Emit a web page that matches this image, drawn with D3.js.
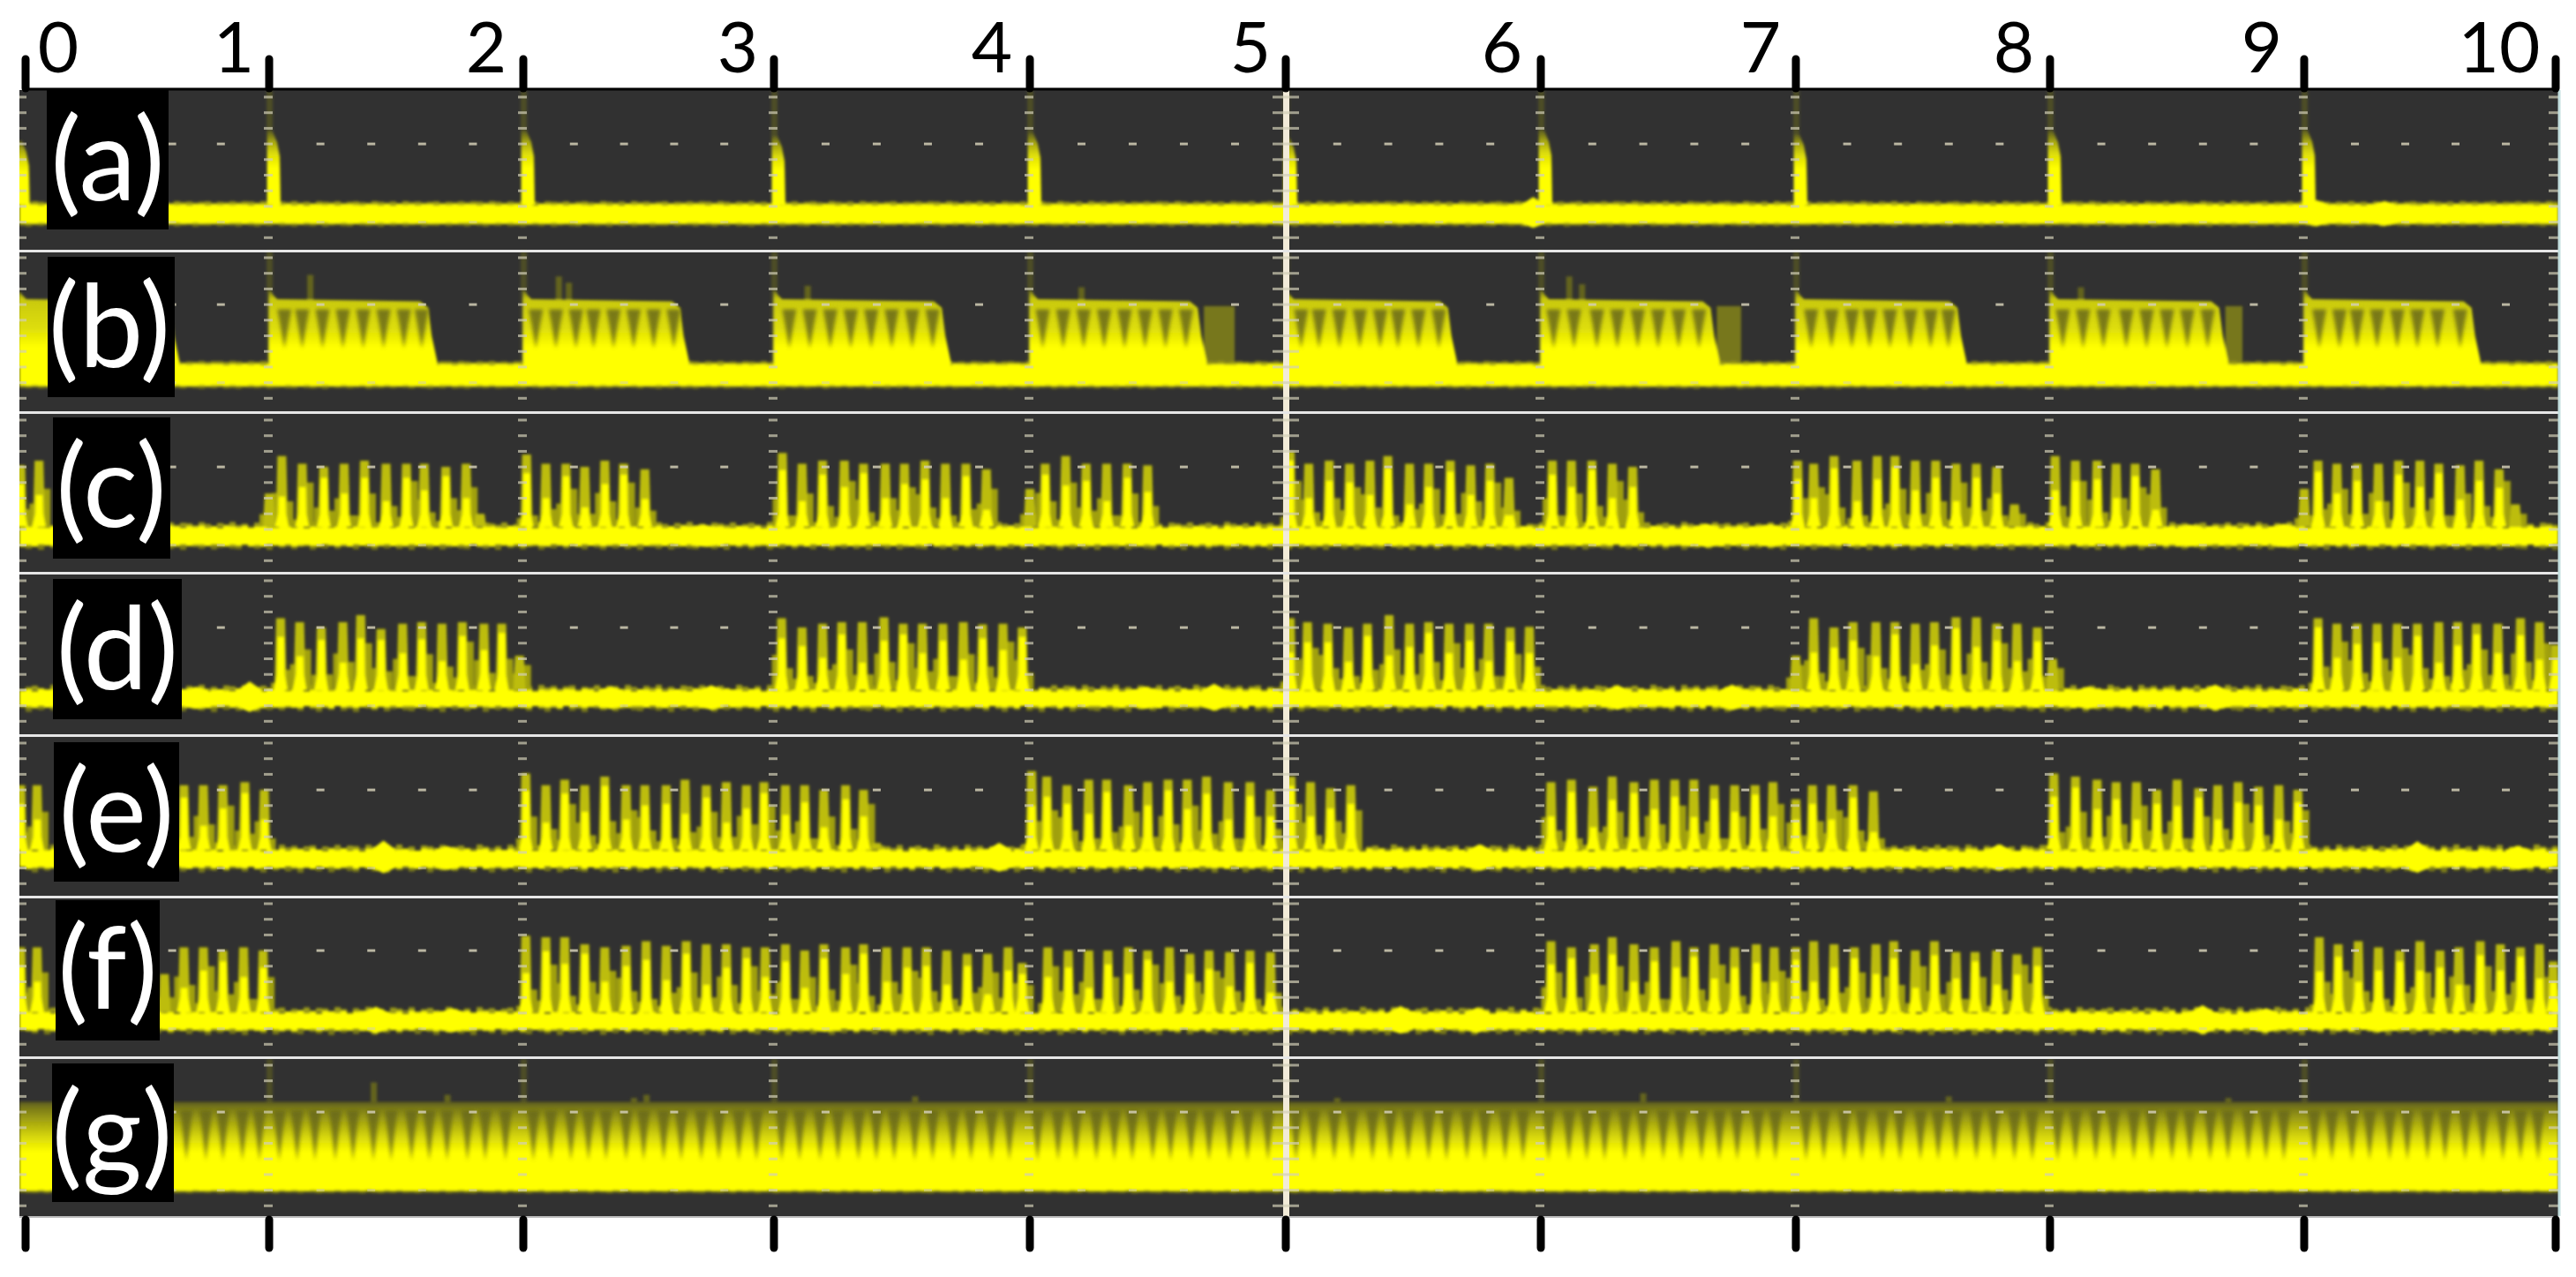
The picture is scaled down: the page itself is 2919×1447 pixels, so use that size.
<!DOCTYPE html>
<html>
<head>
<meta charset="utf-8">
<script src="https://cdn.jsdelivr.net/npm/d3@7"></script>
<style>
  html, body { margin: 0; padding: 0; background: #fff; }
  svg { display: block; }
  text { font-family: Lato, "Open Sans", sans-serif; }
</style>
</head>
<body>
<div id="visualization"></div>
<script>
// Time axis, seconds
const timeTicks = [0, 1, 2, 3, 4, 5, 6, 7, 8, 9, 10];
const tickLabels = ['0', '1', '2', '3', '4', '5', '6', '7', '8', '9', '10'];

// Trace (a): single pulses [time, peak]
const pulsesA = [[-0.03, 6.2], [1, 6.8], [2, 6.8], [3, 6.5], [4, 6.7], [5, 6.45], [6, 6.85], [7, 6.6], [8, 6.8], [9, 6.85]];

// Trace (b): bursts [start, end], faint tails, spikes, dark gaps between the streaks
const burstsB = [[-0.03, 0.62], [1, 1.65], [2, 2.65], [3, 3.68], [4, 4.68], [5, 5.66], [6, 6.69], [7, 7.66], [8, 8.69], [9, 9.69]];
const tailsB = [[4.68, 4.8], [6.69, 6.785], [8.69, 8.757]];
const spikesB = [[1.16, 7.9], [2.14, 7.8], [2.18, 7.4], [3.13, 7.2], [4.2, 7.1], [6.11, 7.8], [6.16, 7.3], [8.12, 7.1]];
const gapsB = [
  1.06, 1.13, 1.21, 1.29, 1.37, 1.45, 1.53, 1.6,
  2.05, 2.13, 2.21, 2.28, 2.36, 2.44, 2.52, 2.6,
  3.06, 3.14, 3.22, 3.3, 3.38, 3.46, 3.54, 3.62,
  4.05, 4.13, 4.21, 4.29, 4.37, 4.45, 4.53, 4.61,
  5.06, 5.13, 5.21, 5.29, 5.37, 5.44, 5.52, 5.6,
  6.05, 6.13, 6.22, 6.3, 6.38, 6.46, 6.54, 6.62,
  7.06, 7.14, 7.22, 7.29, 7.37, 7.45, 7.53, 7.6,
  8.05, 8.13, 8.21, 8.3, 8.38, 8.46, 8.54, 8.62,
  9.06, 9.14, 9.21, 9.29, 9.37, 9.45, 9.53, 9.62
];

// Traces (c)-(f): teeth [time, peak]
const teethC = [
  [-0.02, 6.1], [0.055, 6.4],
  [1, 4.3], [1.05, 6.7], [1.13, 6.2], [1.215, 6], [1.295, 6.2], [1.375, 6.4], [1.46, 6.2], [1.54, 6.2], [1.61, 6.2], [1.695, 6], [1.775, 6.2], [1.83, 3],
  [2.013, 6.8], [2.09, 6.2], [2.17, 6.2], [2.245, 6], [2.325, 6.4], [2.4, 6.2], [2.485, 5.85],
  [3.033, 6.9], [3.11, 6.2], [3.19, 6.4], [3.275, 6.4], [3.35, 6.2], [3.435, 6.2], [3.51, 6.2], [3.59, 6.4], [3.67, 6.2], [3.75, 6.2], [3.83, 5.85],
  [4, 4.6], [4.06, 6.2], [4.14, 6.7], [4.22, 6.2], [4.3, 6.2], [4.38, 6.2], [4.46, 6.1],
  [5.017, 7], [5.09, 6.2], [5.17, 6.4], [5.25, 6.2], [5.33, 6.4], [5.4, 6.7], [5.485, 6.2], [5.56, 6.2], [5.645, 6.4], [5.725, 6.1], [5.8, 6.2], [5.875, 5.3],
  [6.045, 6.4], [6.12, 6.4], [6.2, 6.4], [6.28, 6.2], [6.36, 6],
  [7.007, 6.4], [7.07, 6.2], [7.15, 6.7], [7.24, 6.4], [7.32, 6.7], [7.39, 6.7], [7.47, 6.4], [7.55, 6.4], [7.63, 6.2], [7.71, 6.2], [7.79, 6], [7.86, 3.6],
  [8.02, 6.7], [8.1, 6.4], [8.185, 6.4], [8.26, 6.2], [8.335, 6.2], [8.415, 5.85],
  [9, 4.6], [9.055, 6.4], [9.13, 6.2], [9.21, 6.2], [9.295, 6.2], [9.375, 6.4], [9.46, 6.4], [9.535, 6.2], [9.62, 6.1], [9.695, 6.4], [9.775, 5.85], [9.84, 3.6]
];
const teethD = [
  [1.045, 6.6], [1.12, 6.35], [1.205, 6], [1.29, 6.35], [1.36, 6.8], [1.44, 5.9], [1.525, 6.25], [1.6, 6.35], [1.68, 6.25], [1.76, 6.35], [1.845, 6.25], [1.915, 6.25], [1.985, 4.2],
  [3.03, 6.6], [3.11, 6], [3.19, 6.25], [3.265, 6.35], [3.345, 6.35], [3.43, 6.65], [3.505, 6.25], [3.58, 6.25], [3.66, 6.25], [3.74, 6.35], [3.815, 6.2], [3.895, 6.25], [3.97, 6],
  [5.017, 6.6], [5.085, 6.35], [5.165, 6.25], [5.245, 6], [5.32, 6.25], [5.405, 6.8], [5.485, 6.25], [5.56, 6.35], [5.64, 6.25], [5.72, 6.25], [5.795, 6.25], [5.88, 6], [5.955, 6.05],
  [7, 4.2], [7.07, 6.6], [7.15, 6], [7.225, 6.35], [7.315, 6.35], [7.39, 6.35], [7.47, 6.25], [7.545, 6.35], [7.63, 6.65], [7.71, 6.65], [7.79, 6.25], [7.87, 6.25], [7.95, 6], [8.01, 4],
  [9.055, 6.6], [9.13, 6.25], [9.21, 6.25], [9.29, 6.25], [9.37, 6.25], [9.45, 6.25], [9.535, 6.35], [9.61, 6.35], [9.685, 6.25], [9.77, 6.25], [9.86, 6.6], [9.935, 6.35], [10, 4.9]
];
const teethE = [
  [-0.02, 6.3], [0.047, 6.3], [0.65, 6.3], [0.73, 6.3], [0.81, 6.3], [0.9, 6.5], [0.98, 6],
  [2.01, 7.05], [2.09, 6.3], [2.165, 6.66], [2.245, 6.3], [2.325, 6.85], [2.41, 6.3], [2.485, 6.3], [2.57, 6.3], [2.645, 6.66], [2.73, 6.3], [2.81, 6.5], [2.89, 6.3], [2.96, 6.5],
  [3.045, 6.3], [3.12, 6.3], [3.195, 6], [3.28, 6.3], [3.35, 6], [3.4, 2.6],
  [4.007, 7.2], [4.066, 6.85], [4.145, 6.3], [4.23, 6.66], [4.3, 6.66], [4.385, 6.3], [4.46, 6.5], [4.54, 6.66], [4.615, 6.66], [4.69, 6.85], [4.775, 6.5], [4.86, 6.5], [4.94, 6],
  [5.02, 6.85], [5.097, 6.5], [5.175, 6.1], [5.255, 6.3],
  [6.04, 6.5], [6.12, 6.66], [6.205, 6.2], [6.28, 6.85], [6.365, 6.5], [6.445, 6.66], [6.525, 6.66], [6.6, 6.66], [6.68, 6.3], [6.76, 6.3], [6.84, 6.3], [6.91, 6.5],
  [7, 5.4], [7.065, 6.3], [7.14, 6.3], [7.225, 6.3], [7.305, 5.9],
  [8.015, 7.05], [8.1, 6.85], [8.185, 6.66], [8.26, 6.5], [8.34, 6.5], [8.42, 6], [8.5, 6.66], [8.585, 6.1], [8.66, 6.3], [8.74, 6.5], [8.82, 6.2], [8.9, 6.3], [8.975, 6]
];
const teethF = [
  [-0.02, 6.2], [0.047, 6.2], [0.57, 4.5], [0.65, 6.2], [0.73, 6.2], [0.81, 6], [0.895, 6.2], [0.975, 6],
  [2.01, 6.95], [2.09, 6.85], [2.165, 6.85], [2.245, 6.4], [2.325, 6.2], [2.41, 6.3], [2.49, 6.6], [2.57, 6.3], [2.65, 6.6], [2.73, 6.4], [2.81, 6.4], [2.89, 6.2], [2.965, 6.2],
  [3.045, 6.4], [3.12, 6], [3.195, 6.4], [3.28, 6.2], [3.35, 6.4], [3.44, 6.2], [3.52, 6.2], [3.595, 6.2], [3.675, 6], [3.755, 5.8], [3.835, 5.8], [3.915, 6.2], [3.97, 5.2],
  [4.07, 6.2], [4.15, 6], [4.23, 6], [4.305, 6], [4.385, 6.2], [4.46, 6], [4.545, 6.2], [4.625, 5.8], [4.7, 6], [4.78, 5.9], [4.86, 6], [4.94, 5.9],
  [6.04, 6.6], [6.12, 6.2], [6.21, 6.4], [6.28, 6.85], [6.365, 6.4], [6.445, 6.2], [6.53, 6.6], [6.6, 6.2], [6.68, 6.4], [6.76, 6.2], [6.845, 6.4], [6.915, 6.2],
  [7, 6.2], [7.07, 6.6], [7.15, 6.4], [7.23, 6.2], [7.315, 6.4], [7.385, 6.6], [7.47, 6], [7.545, 6.6], [7.63, 5.9], [7.705, 5.9], [7.79, 6], [7.87, 5.75], [7.95, 6.2],
  [9.06, 6.85], [9.135, 6.4], [9.215, 6.6], [9.295, 6.2], [9.38, 6], [9.46, 6.6], [9.54, 6], [9.615, 6.2], [9.7, 6.6], [9.78, 6.4], [9.86, 6.2], [9.935, 6.4], [9.99, 5.3]
];

// How far the bright core stops under a peak, and how high the dim shoulders reach
const coreDrops = [1.2, 2.2, 0.8, 2.6, 1.5, 0.7, 1.9, 1.1, 2.4, 0.9, 1.7, 0.6, 2.2, 1.3];
const shoulderLevels = [3.3, 4.6, 3, 3.8, 5, 3.2, 2.9, 4.3, 3.5, 5.1, 3.1, 4, 4.7, 3.4, 2.9];

// Small bumps on the noise band [time, extra height]
const bumpsA = [[5.97, 0.5], [9.05, 0.3], [9.32, 0.25]];
const bumpsB = [];
const bumpsC = [[2.72, 0.15], [6.65, 0.2], [6.9, 0.15], [8.55, 0.15], [8.92, 0.2]];
const bumpsD = [[0.7, 0.2], [0.92, 0.55], [2.35, 0.2], [2.75, 0.3], [4.45, 0.2], [4.72, 0.4], [6.3, 0.3], [6.75, 0.35], [8.15, 0.2], [8.65, 0.35]];
const bumpsE = [[1.45, 0.6], [1.7, 0.25], [3.88, 0.45], [5.76, 0.35], [7.8, 0.35], [9.45, 0.55], [9.85, 0.25]];
const bumpsF = [[1.42, 0.35], [1.72, 0.25], [3.2, 0.2], [5.45, 0.4], [5.75, 0.3], [8.6, 0.45], [8.85, 0.25], [9.3, 0.2]];

// Roughness of the band edge, read as a short strip of noise
const edgeNoise = [0.4, -0.6, 0.9, 0.1, -0.9, 0.5, -0.2, 1, -0.5, 0.2, -1, 0.7, 0.3, -0.4, 0.8, -0.8, 0.1, 0.6, -0.3, -0.7, 1, 0.2, -0.5, 0.4, -1, 0.9, -0.1, 0.5, -0.6, 0.3, 0.7, -0.9, 0.2, -0.2, 0.8, -0.4, 0.6];
const edgeStrength = [0.35, 0.25, 0.8, 1, 1, 1, 0.2];

// Trace (g): spikes above the fill and dark gaps in it
const spikesG = [[1.41, 7.9], [1.7, 7.1], [2.49, 7.1], [2.44, 6.9], [3.55, 7], [5.2, 6.9], [6.4, 7.2], [7.6, 7], [8.7, 6.9]];
const gapsG = [
  0.66, 0.74, 0.81, 0.89, 0.96, 1.04, 1.11, 1.18, 1.26, 1.33, 1.41, 1.48, 1.56, 1.63, 1.7, 1.78, 1.85, 1.93,
  2.04, 2.11, 2.19, 2.26, 2.33, 2.41, 2.48, 2.56, 2.63, 2.71, 2.78, 2.86, 2.93,
  3.03, 3.1, 3.18, 3.25, 3.33, 3.4, 3.47, 3.55, 3.62, 3.7, 3.77, 3.85, 3.92,
  4.03, 4.11, 4.18, 4.26, 4.33, 4.4, 4.48, 4.55, 4.63, 4.7, 4.78, 4.85, 4.93,
  5.04, 5.11, 5.19, 5.26, 5.34, 5.41, 5.48, 5.56, 5.63, 5.71, 5.78, 5.86, 5.93,
  6.03, 6.11, 6.18, 6.25, 6.33, 6.4, 6.48, 6.55, 6.63, 6.7, 6.77, 6.85, 6.92,
  7.04, 7.11, 7.19, 7.26, 7.34, 7.41, 7.49, 7.56, 7.63, 7.71, 7.78, 7.86, 7.93,
  8.03, 8.1, 8.18, 8.25, 8.33, 8.4, 8.48, 8.55, 8.63, 8.7, 8.78, 8.85, 8.92,
  9.04, 9.11, 9.19, 9.26, 9.34, 9.41, 9.49, 9.56, 9.64, 9.71, 9.79, 9.86, 9.93
];

// Noise band limits per trace [bottom, top]
const bandLevels = [[0.92, 2.1], [0.81, 2.16], [0.98, 2.16], [0.92, 2], [1.03, 2.16], [0.92, 2.05], [0.98, 2.8]];
const panelNames = ['(a)', '(b)', '(c)', '(d)', '(e)', '(f)', '(g)'];

// Layout
const width = 2919;
const height = 1447;
const plot = { left: 22, right: 2899, top: 102, bottom: 1378 };
const tickPx = [29, 305, 593, 877, 1167, 1457, 1746, 2035, 2323, 2611, 2896];
const tickLabelPx = [66, 265, 551, 836, 1124, 1417, 1702, 1995, 2282, 2563, 2832];
const firstRow = [110, 292, 476, 658, 842, 1024, 1207];
const separators = [284, 467, 649, 833, 1016, 1198];
const rowGap = 17.7;
const boxes = [
  { x0: 53, x1: 191, y0: 102, y1: 260, cx: 122, base: 227 },
  { x0: 54, x1: 198, y0: 291, y1: 450, cx: 124, base: 415 },
  { x0: 60, x1: 193, y0: 473, y1: 633, cx: 126, base: 597 },
  { x0: 60, x1: 206, y0: 656, y1: 815, cx: 133, base: 780 },
  { x0: 61, x1: 203, y0: 841, y1: 999, cx: 132, base: 965 },
  { x0: 63, x1: 181, y0: 1020, y1: 1179, cx: 122, base: 1143 },
  { x0: 59, x1: 197, y0: 1205, y1: 1362, cx: 127, base: 1330 }
];

const YELLOW = '#ffff00';
const OLIVE = '#bdbd0b';
const DIM = '#a0a010';
const STALK = '#4e4e26';
const DASH = '#d2ceb6';

const x = d3.scaleLinear().domain(timeTicks).range(tickPx);
const yScales = firstRow.map(r => d3.scaleLinear().domain([0, 9]).range([r + 9 * rowGap, r]));

const svg = d3.select('#visualization')
  .append('svg')
  .attr('width', width)
  .attr('height', height);

const defs = svg.append('defs');
defs.append('clipPath').attr('id', 'plot-clip')
  .append('rect')
  .attr('x', plot.left).attr('y', plot.top)
  .attr('width', plot.right - plot.left).attr('height', plot.bottom - plot.top);

function blurFilter(id, amount) {
  defs.append('filter').attr('id', id)
    .attr('filterUnits', 'userSpaceOnUse')
    .attr('x', 0).attr('y', 0).attr('width', width).attr('height', height)
    .append('feGaussianBlur').attr('stdDeviation', amount);
}
blurFilter('soft', 1.5);
blurFilter('softer', 2.2);
blurFilter('faint', 0.7);

function gradient(id, stops) {
  const g = defs.append('linearGradient').attr('id', id)
    .attr('x1', 0).attr('x2', 0).attr('y1', 0).attr('y2', 1);
  stops.forEach(s => g.append('stop').attr('offset', s[0]).attr('stop-color', s[1]));
}
gradient('fill-b', [[0, '#77771a'], [0.05, '#a0a012'], [0.11, '#c8c80c'], [0.5, '#dede08'], [0.74, YELLOW], [1, YELLOW]]);
gradient('fill-g', [[0, '#5a5a1e'], [0.1, '#7a7a19'], [0.28, '#a0a012'], [0.55, '#d6d60a'], [0.8, YELLOW], [1, YELLOW]]);
gradient('pulse', [[0, '#5e5e1e'], [0.14, '#a6a612'], [0.3, '#dcdc08'], [0.5, YELLOW], [1, YELLOW]]);

// Background
svg.append('rect')
  .attr('x', plot.left).attr('y', plot.top)
  .attr('width', plot.right - plot.left).attr('height', plot.bottom - plot.top)
  .attr('fill', '#313131');

const signal = svg.append('g').attr('clip-path', 'url(#plot-clip)')
  .append('g').attr('filter', 'url(#soft)');

function band(i, bumps) {
  const y = yScales[i];
  const g = signal.append('g');
  const [lo, hi] = bandLevels[i];
  const k = edgeStrength[i];
  const cells = d3.range(plot.left, plot.right + 7, 7).map(px => x.invert(px));
  const noise = (j, shift) => edgeNoise[(j + shift) % edgeNoise.length] * k;
  const area = (top, bottom) => d3.area()
    .x(d => x(d)).y0((d, j) => y(bottom(j))).y1((d, j) => y(top(j)))
    .curve(d3.curveStepAfter);
  g.append('path').datum(cells).attr('fill', '#9d9d12')
    .attr('d', area(j => hi + 0.18 + noise(j, i * 5) * 0.16, () => hi));
  g.append('path').datum(cells).attr('fill', '#7a7a16')
    .attr('d', area(() => lo, j => lo - 0.16 + noise(j, i * 9 + 3) * 0.16));
  g.append('path').datum(cells).attr('fill', YELLOW)
    .attr('d', area(j => hi + noise(j, i * 7 + 1) * 0.08, j => lo + noise(j, i * 3 + 2) * 0.06));
  // pointed swellings, taller above the band than under it
  g.selectAll('path.bump')
    .data(bumps)
    .join('path')
    .attr('class', 'bump')
    .attr('d', d => {
      const px = x(d[0]);
      return `M${px - 14},${y(hi)}L${px},${y(hi + d[1])}L${px + 14},${y(hi)}L${px + 14},${y(lo)}L${px},${y(lo - d[1] * 0.6)}L${px - 14},${y(lo)}Z`;
    })
    .attr('fill', YELLOW);
}

function stalks(i, times) {
  const y = yScales[i];
  signal.append('g').selectAll('rect')
    .data(times)
    .join('rect')
    .attr('x', d => x(d) - 3).attr('width', 7)
    .attr('y', y(9.4)).attr('height', y(2) - y(9.4))
    .attr('fill', STALK);
}

function teeth(i, data) {
  const y = yScales[i];
  const floor = y(bandLevels[i][1]);
  const g = signal.append('g');
  const shoulder = (d, j, shift) => Math.min(d[1] - 0.6, shoulderLevels[(j + shift) % shoulderLevels.length]);
  g.selectAll('rect.right')
    .data(data)
    .join('rect')
    .attr('class', 'right')
    .attr('x', d => x(d[0]) - 2).attr('width', 15)
    .attr('y', (d, j) => y(shoulder(d, j, 0))).attr('height', (d, j) => floor - y(shoulder(d, j, 0)))
    .attr('fill', DIM);
  g.selectAll('rect.left')
    .data(data)
    .join('rect')
    .attr('class', 'left')
    .attr('x', d => x(d[0]) - 11).attr('width', 10)
    .attr('y', (d, j) => y(shoulder(d, j, 6) * 0.85)).attr('height', (d, j) => floor - y(shoulder(d, j, 6) * 0.85))
    .attr('fill', DIM);
  g.selectAll('path.body')
    .data(data)
    .join('path')
    .attr('class', 'body')
    .attr('d', d => {
      const px = x(d[0]);
      return `M${px - 7},${floor}L${px - 5},${y(d[1])}L${px + 5},${y(d[1])}L${px + 7},${floor}Z`;
    })
    .attr('fill', OLIVE);
  g.selectAll('path.core')
    .data(data.map((d, j) => [d[0], d[1], coreDrops[j % coreDrops.length]]).filter(d => d[1] > 4.8))
    .join('path')
    .attr('class', 'core')
    .attr('d', d => {
      const px = x(d[0]);
      return `M${px - 8},${floor}L${px - 4},${y(3)}L${px - 3.5},${y(d[1] - d[2])}L${px + 4},${y(d[1] - d[2])}L${px + 4.5},${y(3)}L${px + 8},${floor}Z`;
    })
    .attr('fill', YELLOW);
}

function gaps(i, data, top, tip, w, opacity, color) {
  const y = yScales[i];
  svg.append('g').attr('clip-path', 'url(#plot-clip)')
    .append('g').attr('filter', 'url(#softer)')
    .selectAll('path')
    .data(data)
    .join('path')
    .attr('d', d => `M${x(d) - w},${y(top)}L${x(d) + w},${y(top)}L${x(d)},${y(tip)}Z`)
    .attr('fill', color)
    .attr('opacity', opacity);
}

function spikes(i, data, base) {
  const y = yScales[i];
  signal.append('g').selectAll('rect')
    .data(data)
    .join('rect')
    .attr('x', d => x(d[0]) - 3).attr('width', 7)
    .attr('y', d => y(d[1])).attr('height', d => y(base) - y(d[1]))
    .attr('fill', '#63631f');
}

// (a)
const yA = yScales[0];
stalks(0, timeTicks.slice(1, 10));
band(0, bumpsA);
signal.append('g').selectAll('path')
  .data(pulsesA)
  .join('path')
  .attr('d', d => {
    const px = x(d[0]);
    const floor = yA(bandLevels[0][1]);
    return `M${px - 2},${floor}L${px - 2},${yA(d[1])}L${px + 4},${yA(d[1])}L${px + 9},${yA(d[1] - 0.7)}L${px + 12},${yA(d[1] - 1.6)}L${px + 13},${floor}Z`;
  })
  .attr('fill', 'url(#pulse)');

// (b)
const yB = yScales[1];
stalks(1, timeTicks.slice(1, 10));
spikes(1, spikesB, 6);
signal.append('g').selectAll('rect')
  .data(tailsB)
  .join('rect')
  .attr('x', d => x(d[0])).attr('width', d => x(d[1]) - x(d[0]))
  .attr('y', yB(5.9)).attr('height', yB(2) - yB(5.9))
  .attr('fill', '#77771a');
band(1, bumpsB);
signal.append('g').selectAll('path')
  .data(burstsB)
  .join('path')
  .attr('d', d => {
    const a = x(d[0]);
    const b = x(d[1]);
    return `M${a},${yB(2)}L${a},${yB(6.9)}L${a + 9},${yB(6.35)}L${b - 16},${yB(6.2)}L${b - 7},${yB(5.8)}L${b - 3},${yB(4)}L${b + 3},${yB(2.4)}L${b + 3},${yB(2)}Z`;
  })
  .attr('fill', 'url(#fill-b)');
gaps(1, gapsB, 5.7, 3.2, 8, 0.85, '#6a6a18');

// (c)-(f)
[[2, teethC, bumpsC], [3, teethD, bumpsD], [4, teethE, bumpsE], [5, teethF, bumpsF]].forEach(([i, data, bumps]) => {
  band(i, bumps);
  teeth(i, data);
});

// (g)
const yG = yScales[6];
stalks(6, timeTicks.slice(1, 10));
spikes(6, spikesG, 6);
band(6, []);
signal.append('rect')
  .attr('x', plot.left).attr('width', plot.right - plot.left)
  .attr('y', yG(6.65)).attr('height', yG(2.6) - yG(6.65))
  .attr('fill', 'url(#fill-g)');
gaps(6, gapsG, 6.1, 2.9, 7, 0.8, '#66661a');

// Graticule drawn over the traces
const graticule = svg.append('g').attr('clip-path', 'url(#plot-clip)')
  .append('g').attr('filter', 'url(#faint)');

svg.append('g').selectAll('rect')
  .data(separators)
  .join('rect')
  .attr('x', plot.left).attr('y', d => d - 1)
  .attr('width', plot.right - plot.left).attr('height', 3)
  .attr('fill', '#e6e6e6');

graticule.append('rect')
  .attr('x', x(5) - 3).attr('y', plot.top)
  .attr('width', 7).attr('height', plot.bottom - plot.top)
  .attr('fill', '#f2ebd8');

const rowIndex = d3.range(10);
firstRow.forEach(r => {
  const g = graticule.append('g').attr('fill', DASH);
  const rowY = d => r + d * rowGap;
  // vertical dashes on the major divisions, the plot edges included
  timeTicks.forEach(t => {
    const px = t === 0 ? plot.left + 2 : (t === 10 ? plot.right - 5 : x(t) - 1);
    const w = t === 5 ? 30 : (t === 0 || t === 10 ? 12 : 10);
    g.selectAll(null)
      .data(rowIndex)
      .join('rect')
      .attr('x', t === 5 ? x(5) - 15 : px - w / 2)
      .attr('y', d => rowY(d) - 1.5)
      .attr('width', w).attr('height', 3)
      .attr('opacity', 0.7);
  });
  // minor dots on the centre row and the row under the band
  const minor = d3.range(0, 50).map(k => k / 5).filter(k => k % 1 !== 0);
  [3, 8].forEach(row => {
    g.selectAll(null)
      .data(minor)
      .join('rect')
      .attr('x', d => x(d) - 4)
      .attr('y', rowY(row) - 1.5)
      .attr('width', 9).attr('height', 3)
      .attr('opacity', row === 3 ? 0.85 : 0.5);
  });
});

// Frame lines and axis ticks
svg.append('line')
  .attr('x1', x(0)).attr('x2', x(10))
  .attr('y1', plot.top - 1).attr('y2', plot.top - 1)
  .attr('stroke', '#000').attr('stroke-width', 3);
svg.append('line')
  .attr('x1', plot.left).attr('x2', plot.right)
  .attr('y1', plot.bottom + 1).attr('y2', plot.bottom + 1)
  .attr('stroke', '#bdbdbd').attr('stroke-width', 2);
svg.append('line')
  .attr('x1', plot.right + 1).attr('x2', plot.right + 1)
  .attr('y1', plot.top).attr('y2', plot.bottom)
  .attr('stroke', '#c4e0e0').attr('stroke-width', 3);

svg.append('g').selectAll('line')
  .data(timeTicks)
  .join('line')
  .attr('x1', d => x(d)).attr('x2', d => x(d))
  .attr('y1', 67).attr('y2', 100)
  .attr('stroke', '#000').attr('stroke-width', 9).attr('stroke-linecap', 'round');
svg.append('g').selectAll('line')
  .data(timeTicks)
  .join('line')
  .attr('x1', d => x(d)).attr('x2', d => x(d))
  .attr('y1', 1382).attr('y2', 1414)
  .attr('stroke', '#000').attr('stroke-width', 9).attr('stroke-linecap', 'round');

svg.append('g').selectAll('text')
  .data(tickLabels)
  .join('text')
  .attr('x', (d, i) => tickLabelPx[i])
  .attr('y', 82)
  .attr('text-anchor', 'middle')
  .style('font-size', '80px')
  .style('fill', '#000')
  .text(d => d);

// Trace labels on black boxes
const labels = svg.append('g').selectAll('g')
  .data(panelNames)
  .join('g');
labels.append('rect')
  .attr('x', (d, i) => boxes[i].x0).attr('y', (d, i) => boxes[i].y0)
  .attr('width', (d, i) => boxes[i].x1 - boxes[i].x0)
  .attr('height', (d, i) => boxes[i].y1 - boxes[i].y0)
  .attr('fill', '#000');
labels.append('text')
  .attr('x', (d, i) => boxes[i].cx)
  .attr('y', (d, i) => boxes[i].base)
  .attr('text-anchor', 'middle')
  .style('font-size', '130px')
  .style('fill', '#fff')
  .text(d => d);
</script>
</body>
</html>
